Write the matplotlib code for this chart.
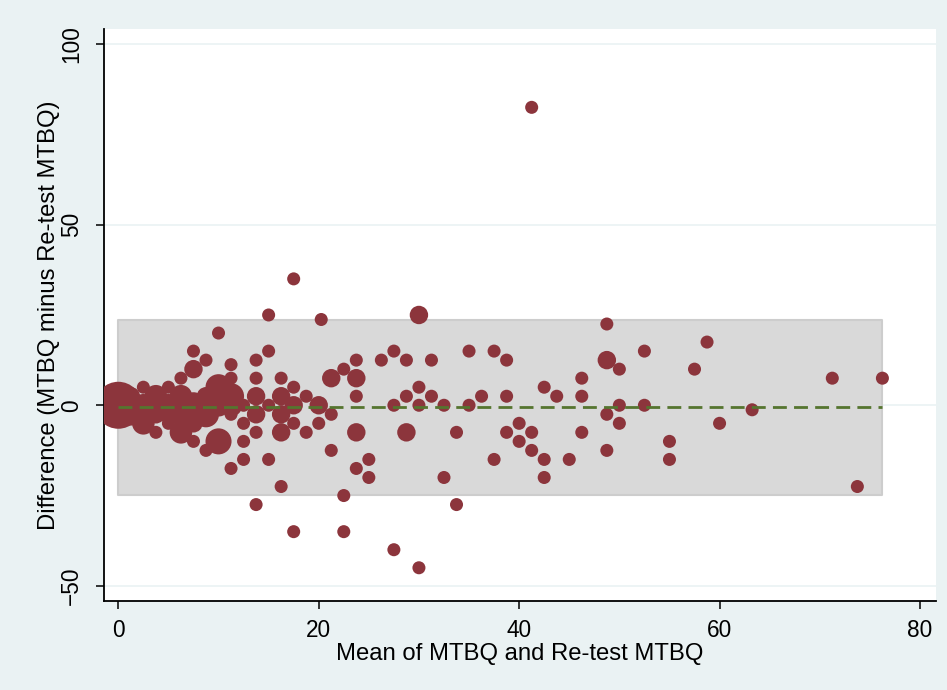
import matplotlib.pyplot as plt
import numpy as np

# Bland-Altman data: mean of the two MTBQ scores, their difference, and count (marker weight)
mean_vals = [41.25, 17.5, 30, 15, 20.25, 48.75, 10, 58.75, 7.5, 15, 27.5, 35, 37.5, 52.5,
             8.75, 11.25, 13.75, 23.75, 26.25, 28.75, 31.25, 38.75, 48.75, 7.5, 22.5, 50, 57.5,
             6.25, 11.25, 13.75, 16.25, 21.25, 23.75, 46.25, 71.25, 76.25,
             2.5, 5, 10, 17.5, 30, 42.5,
             1.25, 3.75, 6.25, 8.75, 11.25, 13.75, 16.25, 18.75, 23.75, 28.75, 31.25, 36.25, 38.75, 43.75, 46.25,
             0, 2.5, 3.75, 5, 6.25, 7.5, 8.75, 10, 11.25, 12.5, 15, 17.5, 20, 27.5, 30, 32.5, 35, 50, 52.5, 63.25,
             1.25, 2.5, 3.75, 5, 6.25, 8.75, 11.25, 13.75, 16.25, 21.25, 48.75,
             2.5, 5, 7.5, 12.5, 17.5, 20, 40, 50, 60,
             3.75, 6.25, 13.75, 16.25, 18.75, 23.75, 28.75, 33.75, 38.75, 41.25, 46.25,
             7.5, 10, 12.5, 40, 55,
             8.75, 21.25, 41.25, 48.75,
             12.5, 15, 25, 37.5, 42.5, 45, 55,
             11.25, 23.75, 25, 32.5, 42.5, 16.25, 73.75, 22.5, 13.75, 33.75,
             17.5, 22.5, 27.5, 30]
diff_vals = [82.5, 35, 25, 25, 23.75, 22.5, 20, 17.5, 15, 15, 15, 15, 15, 15,
             12.5, 11.25, 12.5, 12.5, 12.5, 12.5, 12.5, 12.5, 12.5, 10, 10, 10, 10,
             7.5, 7.5, 7.5, 7.5, 7.5, 7.5, 7.5, 7.5, 7.5,
             5, 5, 5, 5, 5, 5,
             2.5, 2.5, 2.5, 2.5, 2.5, 2.5, 2.5, 2.5, 2.5, 2.5, 2.5, 2.5, 2.5, 2.5, 2.5,
             0, 0, 0, 0, 0, 0, 0, 0, 0, 0, 0, 0, 0, 0, 0, 0, 0, 0, 0, -1.25,
             -2.5, -2.5, -2.5, -2.5, -2.5, -2.5, -2.5, -2.5, -2.5, -2.5, -2.5,
             -5, -5, -5, -5, -5, -5, -5, -5, -5,
             -7.5, -7.5, -7.5, -7.5, -7.5, -7.5, -7.5, -7.5, -7.5, -7.5, -7.5,
             -10, -10, -10, -10, -10,
             -12.5, -12.5, -12.5, -12.5,
             -15, -15, -15, -15, -15, -15, -15,
             -17.5, -17.5, -20, -20, -20, -22.5, -22.5, -25, -27.5, -27.5,
             -35, -35, -40, -45]
counts = [1, 1, 2, 1, 1, 1, 1, 1, 1, 1, 1, 1, 1, 1,
          1, 1, 1, 1, 1, 1, 1, 1, 2, 2, 1, 1, 1,
          1, 1, 1, 1, 2, 2, 1, 1, 1,
          1, 1, 4, 1, 1, 1,
          2, 3, 3, 2, 4, 2, 2, 1, 1, 1, 1, 1, 1, 1, 1,
          13, 3, 3, 3, 3, 4, 3, 3, 3, 1, 1, 2, 2, 1, 1, 1, 1, 1, 1, 1,
          3, 3, 2, 2, 3, 4, 1, 2, 2, 1, 1,
          3, 1, 2, 1, 1, 1, 1, 1, 1,
          1, 3, 1, 2, 1, 2, 2, 1, 1, 1, 1,
          1, 4, 1, 1, 1,
          1, 1, 1, 1,
          1, 1, 1, 1, 1, 1, 1,
          1, 1, 1, 1, 1, 1, 1, 1, 1, 1,
          1, 1, 1, 1]

mean_diff = -0.6
upper_loa = 23.7
lower_loa = -24.9
max_mean = 76.25

bg = '#eaf2f3'
fig = plt.figure(figsize=(9.47, 6.9), dpi=100, facecolor=bg)
ax = fig.add_axes([0.1098, 0.129, 0.8786, 0.829])
ax.set_facecolor('white')

# limits of agreement band
ax.fill_between([0, max_mean], lower_loa, upper_loa, facecolor='#d9d9d9',
                edgecolor='#cdcdcd', linewidth=1.5, zorder=1)

ax.scatter(mean_vals, diff_vals, s=np.array(counts) * 88, color='#8c353c',
           edgecolors='none', zorder=3)

ax.plot([0, max_mean], [mean_diff, mean_diff], color='#55752f', linewidth=2,
        dashes=(5, 2.6), zorder=4)

ax.set_xlim(-1.43, 81.6)
ax.set_ylim(-54.2, 104.2)
ax.set_xticks([0, 20, 40, 60, 80])
ax.set_yticks([-50, 0, 50, 100])
ax.yaxis.grid(True, color=bg, linewidth=1.2, zorder=0)
ax.set_axisbelow(True)

for side in ['top', 'right']:
    ax.spines[side].set_visible(False)
for side in ['left', 'bottom']:
    ax.spines[side].set_linewidth(1.3)
    ax.spines[side].set_color('black')

ax.tick_params(axis='both', direction='out', length=6, width=1.1, labelsize=16.3)
ax.tick_params(axis='x', pad=7)
ax.tick_params(axis='y', pad=9)
for lbl in ax.get_yticklabels():
    lbl.set_rotation(90)
    lbl.set_va('center')

for t in ax.get_xticklabels() + ax.get_yticklabels():
    t.set_family('Liberation Sans')

ax.set_xlabel('Mean of MTBQ and Re-test MTBQ', fontsize=17.2, family='Liberation Sans', labelpad=1)
ax.set_ylabel('Difference (MTBQ minus Re-test MTBQ)', fontsize=17.2, family='Liberation Sans', labelpad=0)

fig.savefig('out.png', dpi=100, facecolor=bg)
